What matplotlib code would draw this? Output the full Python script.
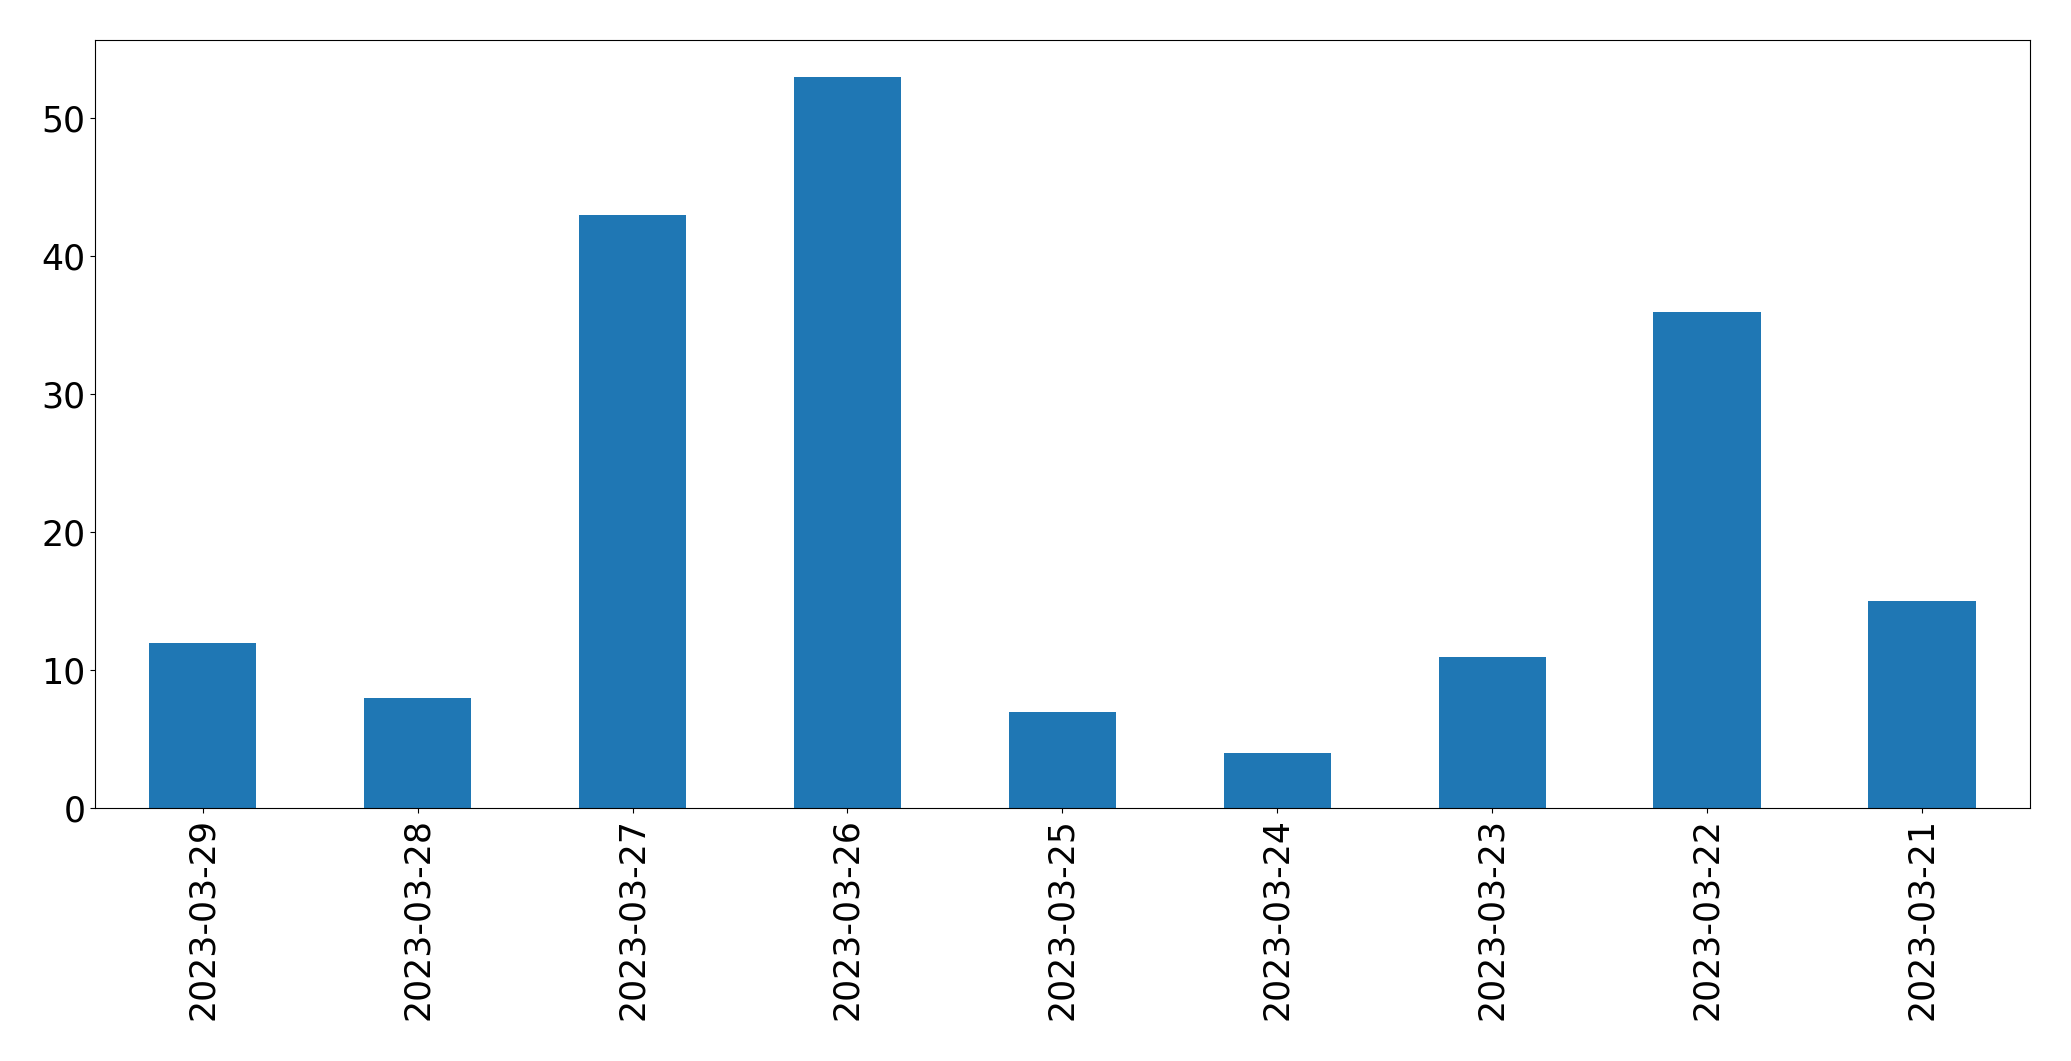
import pandas as pd
import matplotlib.pyplot as plt

dias = ["2023-03-29", "2023-03-28", "2023-03-27", "2023-03-26", "2023-03-25",
        "2023-03-24", "2023-03-23", "2023-03-22", "2023-03-21"]
contagem = [12, 8, 43, 53, 7, 4, 11, 36, 15]

serie = pd.Series(contagem, index=dias)

fig = plt.figure(figsize=(20.71, 10.61), dpi=100)
ax = fig.add_axes([0.046, 0.238, 0.934, 0.724])
serie.plot(kind="bar", ax=ax, color="#1f77b4")
ax.tick_params(axis="both", labelsize=25)
fig.savefig("out.png", dpi=100)
